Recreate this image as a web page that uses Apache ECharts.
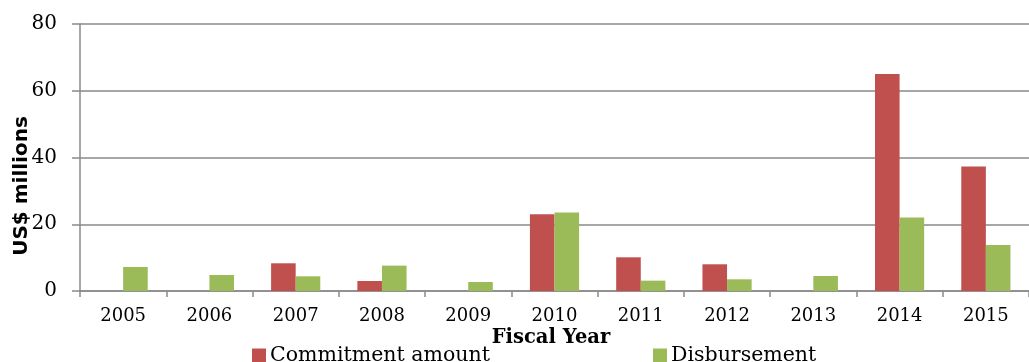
<!DOCTYPE html>
<html>
<head>
<meta charset="utf-8">
<script src="https://cdn.jsdelivr.net/npm/echarts@6/dist/echarts.min.js"></script>
<style>
  html, body { margin: 0; padding: 0; background: #fff; }
  #chart { width: 1029px; height: 362px; }
</style>
</head>
<body>
<div id="chart"></div>
<script>
// Fiscal years and amounts (US$ millions)
const years = ['2005', '2006', '2007', '2008', '2009', '2010', '2011', '2012', '2013', '2014', '2015'];
const commitment = [null, null, 8.3, 3.0, null, 23.0, 10.1, 8.0, null, 65.0, 37.3];
const disbursement = [7.2, 4.8, 4.4, 7.6, 2.7, 23.5, 3.1, 3.5, 4.5, 22.0, 13.8];
const yTicks = [0, 20, 40, 60, 80];

const serif = 'DejaVu Serif';
const axisGray = '#8a8a8a';

const chart = echarts.init(document.getElementById('chart'), null, { renderer: 'canvas' });
chart.setOption({
  animation: false,
  backgroundColor: '#ffffff',
  grid: { left: 80, top: 24, right: -12, bottom: 71, containLabel: false },
  legend: [
    {
      data: ['Commitment amount'],
      icon: 'rect',
      left: 247, top: 340,
      itemWidth: 14, itemHeight: 14, itemGap: 0,
      textStyle: { fontFamily: serif, fontSize: 20.5, color: '#000', padding: [0, 0, 0, -1] }
    },
    {
      data: ['Disbursement'],
      icon: 'rect',
      left: 648, top: 340,
      itemWidth: 14, itemHeight: 14, itemGap: 0,
      textStyle: { fontFamily: serif, fontSize: 20.5, color: '#000', padding: [0, 0, 0, -1] }
    }
  ],
  xAxis: {
    type: 'category',
    data: years,
    axisLine: { lineStyle: { color: axisGray, width: 1.5 } },
    axisTick: { show: true, alignWithLabel: false, length: 6, lineStyle: { color: axisGray, width: 1.5 } },
    axisLabel: { fontFamily: serif, fontSize: 18, color: '#000', margin: 16 }
  },
  yAxis: {
    type: 'value',
    min: yTicks[0],
    max: yTicks[yTicks.length - 1],
    interval: 20,
    axisLine: { show: true, lineStyle: { color: axisGray, width: 1.5 } },
    axisTick: { show: true, length: 8, lineStyle: { color: axisGray, width: 1.5 } },
    splitLine: { show: true, lineStyle: { color: axisGray, width: 1.5 } },
    axisLabel: { fontFamily: serif, fontSize: 20, color: '#000', margin: 23 }
  },
  series: [
    {
      name: 'Commitment amount',
      type: 'bar',
      data: commitment,
      itemStyle: { color: '#C0504D' },
      barGap: '0%',
      barCategoryGap: '43%'
    },
    {
      name: 'Disbursement',
      type: 'bar',
      data: disbursement,
      itemStyle: { color: '#9BBB59' },
      barGap: '0%',
      barCategoryGap: '43%'
    }
  ],
  graphic: [
    {
      type: 'text',
      x: 22, y: 186,
      rotation: Math.PI / 2,
      style: {
        text: 'US$ millions',
        font: 'bold 20px "DejaVu Sans"',
        fill: '#000',
        align: 'center',
        verticalAlign: 'middle'
      }
    },
    {
      type: 'text',
      x: 551, y: 338,
      style: {
        text: 'Fiscal Year',
        font: 'bold 19.5px "DejaVu Serif"',
        fill: '#000',
        align: 'center',
        verticalAlign: 'middle'
      }
    }
  ]
});
</script>
</body>
</html>
